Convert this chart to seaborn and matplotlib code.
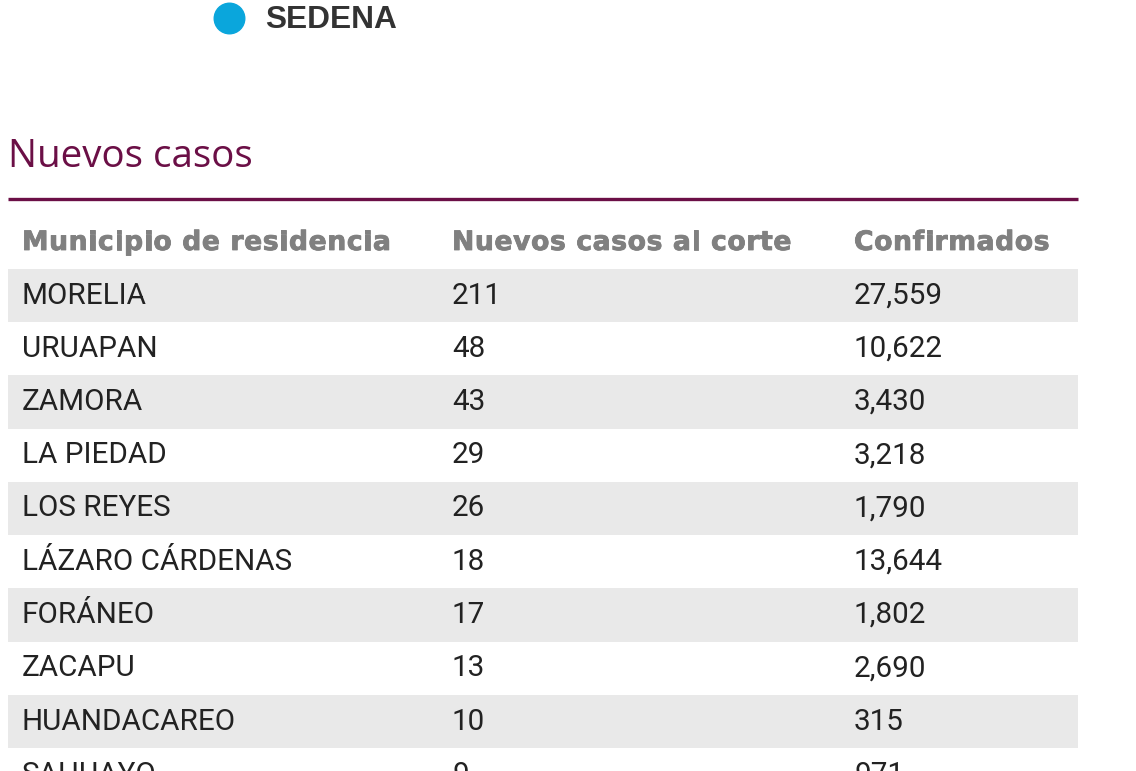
import matplotlib
matplotlib.use("Agg")
import matplotlib.pyplot as plt
import seaborn as sns
import pandas as pd
import matplotlib.patheffects as pe
from matplotlib.font_manager import FontProperties, findfont, get_font

# ---- data ----
legend_label = "SEDENA"
title = "Nuevos casos"
headers = ["Municipio de residencia", "Nuevos casos al corte", "Confirmados"]
municipios = ["MORELIA", "URUAPAN", "ZAMORA", "LA PIEDAD", "LOS REYES",
              "LÁZARO CÁRDENAS", "FORÁNEO", "ZACAPU", "HUANDACAREO", "SAHUAYO"]
nuevos = [211, 48, 43, 29, 26, 18, 17, 13, 10, 9]
confirmados = [27559, 10622, 3430, 3218, 1790, 13644, 1802, 2690, 315, 971]

sns.set_theme(style="white")
plt.rcParams['font.family'] = ['Roboto', 'DejaVu Sans']

W, H = 1136, 771
DPI = 100
fig = plt.figure(figsize=(W / DPI, H / DPI), dpi=DPI)
fig.patch.set_facecolor("white")

ROW_H = 53.25
ROW0 = 295.5
top_row = -ROW0 / ROW_H
bot_row = (H - ROW0) / ROW_H

ax = fig.add_axes([0, 0, 1, 1])
TABLE_W = 1070
df = pd.DataFrame({
    "row": municipios,
    "stripe": [TABLE_W if i % 2 == 0 else 0 for i in range(len(municipios))],
})
sns.barplot(data=df, x="stripe", y="row", orient="h", color="#e9e9e9",
            saturation=1, width=1.0, linewidth=0, ax=ax)
ax.set_xlim(-8, W - 8)   # x data units == pixels (offset by 8)
ax.set_ylim(bot_row, top_row)
ax.axis("off")

col_x = [14, 444, 846]
body_color = "#222222"
body_size = 21.3
fam = ["Roboto", "DejaVu Sans"]
for i, (m, n, c) in enumerate(zip(municipios, nuevos, confirmados)):
    ax.text(col_x[0], i, m, ha="left", va="center", fontsize=body_size,
            color=body_color, family=fam)
    ax.text(col_x[1], i, f"{n:,}", ha="left", va="center", fontsize=body_size,
            color=body_color, family=fam)
    ax.text(col_x[2], i, f"{c:,}", ha="left", va="center", fontsize=body_size,
            color=body_color, family=fam)

# header row with slight letter spacing (drawn glyph by glyph)
header_y = (250 - ROW0) / ROW_H   # baseline
H_SIZE = 19.2
H_SPACING = 0.6  # px
hprops = FontProperties(family="DejaVu Sans", weight="bold", size=H_SIZE)
hfont = get_font(findfont(hprops))
hfont.set_size(H_SIZE, DPI)
for x0, h in zip(col_x, headers):
    x = x0
    for ch in h:
        g = hfont.load_char(ord(ch))
        adv = g.linearHoriAdvance / 65536.0
        if ch != " ":
            ax.text(x, header_y, ch, ha="left", va="baseline",
                    fontproperties=hprops, color="#808080",
                    path_effects=[pe.withStroke(linewidth=0.6,
                                                foreground="#808080")])
        x += adv + H_SPACING

# rule under title
line_y = (199 - ROW0) / ROW_H
ax.plot([0, TABLE_W], [line_y, line_y], color="#6b0f46", lw=2.4,
        solid_capstyle="butt")

# title
fig.text(8 / W, 1 - 157 / H, title, ha="left", va="center", fontsize=27.7,
         color="#6b0f46", family=["Open Sans", "DejaVu Sans"])

# legend marker (round, in points so it stays circular)
ax.plot([229 - 8], [(18 - ROW0) / ROW_H], marker="o", ms=22, color="#0aa6dc",
        linestyle="none", clip_on=False)
fig.text(265 / W, 1 - 20 / H, legend_label, ha="left", va="center",
         fontsize=22.8, fontweight="bold", color="#333333",
         family=["Liberation Sans", "DejaVu Sans"])

fig.savefig("out.png", dpi=DPI, facecolor="white")
